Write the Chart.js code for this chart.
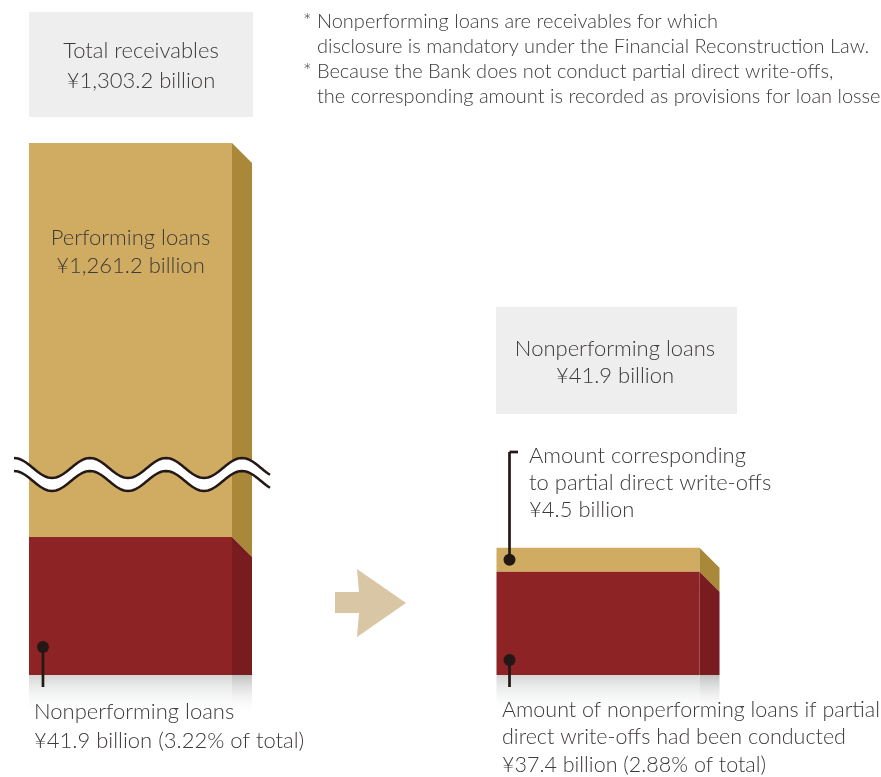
<!DOCTYPE html>
<html>
<head>
<meta charset="utf-8">
<script src="https://cdn.jsdelivr.net/npm/chart.js@4.4.0/dist/chart.umd.min.js"></script>
<style>
  html, body { margin: 0; padding: 0; background: #fff; }
  #wrap { width: 881px; height: 777px; }
</style>
</head>
<body>
<div id="wrap"><canvas id="npl-chart" width="881" height="777"></canvas></div>
<script>
// values in ¥ billion
const categories = ["Total receivables", "", "Nonperforming loans"];
const nonperforming = [41.9, null, null];
const performing = [1261.2, null, null];
const afterWriteOff = [null, null, 37.4];
const partialWriteOff = [null, null, 4.5];

const TAN = "#d0ac62";
const TAN_SIDE = "#a98839";
const RED = "#8e2326";
const RED_SIDE = "#781c1f";
const INK = "#3e3a39";
const DARK = "#231815";
const FONT = "Lato";

function txt(ctx, s, x, y, size, align) {
  ctx.font = "300 " + size + "px " + FONT;
  ctx.textAlign = align || "left";
  ctx.textBaseline = "alphabetic";
  ctx.fillStyle = INK;
  ctx.fillText(s, x, y);
}

function bars(chart) {
  // one entry per visible column, segments bottom -> top, clamped to the plot
  const area = chart.chartArea;
  const cols = {};
  chart.data.datasets.forEach((ds, i) => {
    chart.getDatasetMeta(i).data.forEach((el, j) => {
      if (ds.data[j] == null) return;
      const p = el.getProps(["x", "y", "base", "width"], true);
      p.y = Math.max(p.y, area.top);
      p.base = Math.min(p.base, area.bottom);
      (cols[j] = cols[j] || []).push({ ...p, side: ds.sideColor });
    });
  });
  return cols;
}

const boxesAndShadow = {
  id: "boxesAndShadow",
  beforeDatasetsDraw(chart) {
    const ctx = chart.ctx;
    const area = chart.chartArea;
    ctx.save();
    // grey title boxes
    ctx.fillStyle = "#edeeed";
    ctx.fillRect(29, 12, 224, 105);
    ctx.fillRect(496, 307, 241, 107);

    // soft shadow under each column
    const cols = bars(chart);
    Object.values(cols).forEach((segs) => {
      const s = segs[0];
      const l = s.x - s.width / 2, r = s.x + s.width / 2;
      let g = ctx.createLinearGradient(0, area.bottom, 0, area.bottom + 40);
      g.addColorStop(0, "rgba(212,214,214,1)");
      g.addColorStop(1, "rgba(255,255,255,0)");
      ctx.fillStyle = g;
      ctx.fillRect(l, area.bottom, s.width, 40);
      g = ctx.createLinearGradient(0, area.bottom, 0, area.bottom + 40);
      g.addColorStop(0, "rgba(192,193,193,1)");
      g.addColorStop(1, "rgba(255,255,255,0)");
      ctx.fillStyle = g;
      ctx.fillRect(r, area.bottom, 20, 40);
    });

    // arrow between columns
    ctx.fillStyle = "#d9c6a5";
    ctx.beginPath();
    ctx.moveTo(335, 592);
    ctx.lineTo(359, 592);
    ctx.lineTo(357, 569);
    ctx.lineTo(406, 603);
    ctx.lineTo(357, 637);
    ctx.lineTo(359, 613);
    ctx.lineTo(335, 613);
    ctx.closePath();
    ctx.fill();
    ctx.restore();
  }
};

const decorations = {
  id: "decorations",
  afterDatasetsDraw(chart) {
    const ctx = chart.ctx;
    const d = 20;
    const cols = bars(chart);
    ctx.save();

    // 3D side faces, top segment first
    Object.values(cols).forEach((segs) => {
      for (let k = segs.length - 1; k >= 0; k--) {
        const s = segs[k];
        const r = s.x + s.width / 2;
        const bot = k === 0 ? s.base : s.base + d;
        ctx.fillStyle = s.side;
        ctx.beginPath();
        ctx.moveTo(r, s.y);
        ctx.lineTo(r + d, s.y + d);
        ctx.lineTo(r + d, bot);
        ctx.lineTo(r, s.base);
        ctx.closePath();
        ctx.fill();
      }
    });

    // wavy break on the tall column
    const wave = (y0) => {
      const pts = [];
      for (let x = 14; x <= 270; x += 2) {
        pts.push([x, y0 - 10 * Math.cos(2 * Math.PI * (x - 14) / 76)]);
      }
      return pts;
    };
    const w1 = wave(468), w2 = wave(481);
    ctx.fillStyle = "#fff";
    ctx.beginPath();
    w1.forEach((p, i) => (i ? ctx.lineTo(p[0], p[1]) : ctx.moveTo(p[0], p[1])));
    w2.slice().reverse().forEach((p) => ctx.lineTo(p[0], p[1]));
    ctx.closePath();
    ctx.fill();
    ctx.strokeStyle = DARK;
    ctx.lineWidth = 2.5;
    [w1, w2].forEach((w) => {
      ctx.beginPath();
      w.forEach((p, i) => (i ? ctx.lineTo(p[0], p[1]) : ctx.moveTo(p[0], p[1])));
      ctx.stroke();
    });

    // pin markers
    const pin = (x, y, y2) => {
      ctx.strokeStyle = DARK;
      ctx.lineWidth = 2.7;
      ctx.beginPath();
      ctx.moveTo(x, y);
      ctx.lineTo(x, y2);
      ctx.stroke();
      ctx.fillStyle = DARK;
      ctx.beginPath();
      ctx.arc(x, y, 6, 0, Math.PI * 2);
      ctx.fill();
    };
    const L = cols[0][0], R = cols[2][0], RT = cols[2][1];
    pin(L.x - L.width / 2 + 14, L.base - 28, L.base + 12);
    pin(R.x - R.width / 2 + 13, R.base - 15, R.base + 12);
    const ty = (RT.y + RT.base) / 2;
    pin(RT.x - RT.width / 2 + 13, ty, 452);
    ctx.beginPath();
    ctx.moveTo(RT.x - RT.width / 2 + 13, 452);
    ctx.lineTo(518, 452);
    ctx.stroke();

    // texts
    txt(ctx, "Total receivables", 141, 58, 22, "center");
    txt(ctx, "\u00a51,303.2 billion", 141, 88, 22, "center");
    txt(ctx, "Performing loans", L.x, 245, 22, "center");
    txt(ctx, "\u00a5" + performing[0].toLocaleString("en-US", { minimumFractionDigits: 1 }) + " billion", L.x, 273, 22, "center");
    txt(ctx, "Nonperforming loans", 615, 356, 22, "center");
    txt(ctx, "\u00a541.9 billion", 615, 383, 22, "center");
    txt(ctx, "Amount corresponding", 529, 463, 22);
    txt(ctx, "to partial direct write-offs", 529, 490, 22);
    txt(ctx, "\u00a5" + partialWriteOff[2] + " billion", 529, 517, 22);
    txt(ctx, "Nonperforming loans", 34, 719, 22);
    txt(ctx, "\u00a5" + nonperforming[0] + " billion (3.22% of total)", 34, 748, 22);
    txt(ctx, "Amount of nonperforming loans if partial", 502, 717, 21.5);
    txt(ctx, "direct write-offs had been conducted", 502, 744, 21.5);
    txt(ctx, "\u00a5" + afterWriteOff[2] + " billion (2.88% of total)", 502, 772, 21.5);
    txt(ctx, "* Nonperforming loans are receivables for which", 303, 28, 20);
    txt(ctx, "disclosure is mandatory under the Financial Reconstruction Law.", 317, 53, 20);
    txt(ctx, "* Because the Bank does not conduct partial direct write-offs,", 303, 78, 20);
    txt(ctx, "the corresponding amount is recorded as provisions for loan losses.", 317, 103, 20);
    ctx.restore();
  }
};

new Chart(document.getElementById("npl-chart").getContext("2d"), {
  type: "bar",
  data: {
    labels: categories,
    datasets: [
      { label: "Nonperforming loans", data: nonperforming, backgroundColor: RED, sideColor: RED_SIDE, yAxisID: "y" },
      { label: "Performing loans", data: performing, backgroundColor: TAN, sideColor: TAN_SIDE, yAxisID: "y" },
      { label: "NPL after partial write-offs", data: afterWriteOff, backgroundColor: RED, sideColor: RED_SIDE, yAxisID: "y2" },
      { label: "Partial direct write-offs", data: partialWriteOff, backgroundColor: TAN, sideColor: TAN_SIDE, yAxisID: "y2" },
    ].map((ds) => ({ ...ds, stack: "a", clip: 0, borderWidth: 0 })),
  },
  options: {
    responsive: false,
    animation: false,
    categoryPercentage: 1,
    barPercentage: 0.8685,
    layout: { padding: { left: 13.6, right: 166.1, top: 143, bottom: 102 } },
    plugins: { legend: { display: false }, tooltip: { enabled: false } },
    scales: {
      x: { display: false, stacked: true },
      y: { display: false, stacked: true, min: 0, max: 161.5 },
      // the right column is drawn on a truncated axis, as in the original
      y2: { display: false, stacked: true, min: 18, max: 118 },
    },
  },
  plugins: [boxesAndShadow, decorations],
});
</script>
</body>
</html>
